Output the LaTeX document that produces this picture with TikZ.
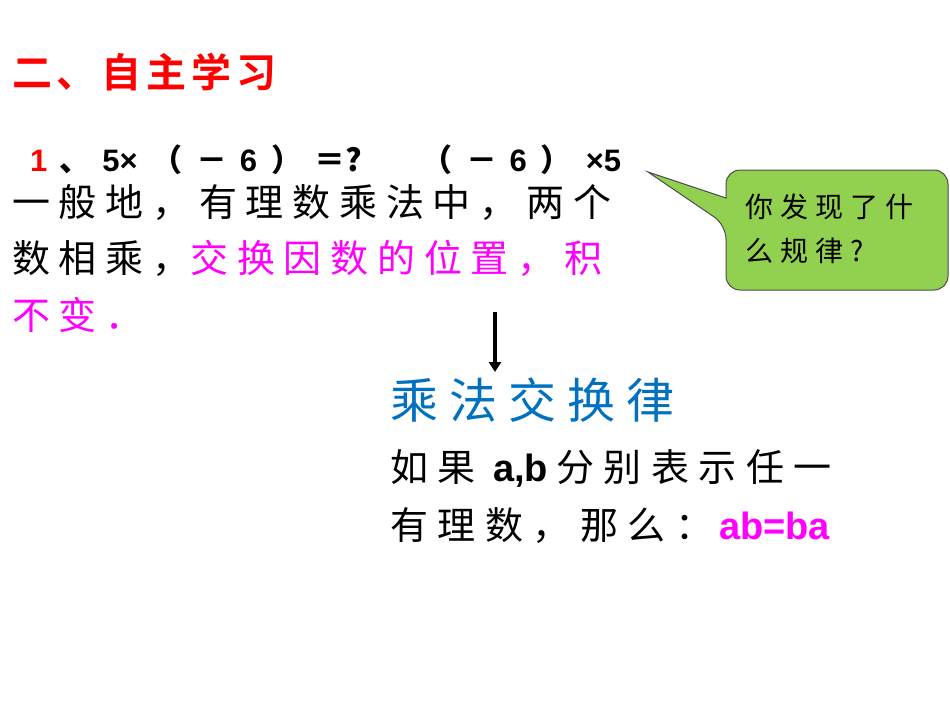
\documentclass[tikz,border=0pt]{standalone}
\usepackage{fontspec}
\setmainfont{Liberation Sans}
\newfontfamily\cjk[LetterSpace=23]{Noto Sans CJK SC}
\newfontfamily\cjkl[LetterSpace=25]{Noto Sans CJK SC}
\newfontfamily\cjkb[LetterSpace=12]{Noto Sans CJK SC Bold}
\newfontfamily\cjkn{Noto Sans CJK SC}
\usetikzlibrary{arrows.meta}
\definecolor{tred}{RGB}{255,0,0}
\definecolor{mag}{RGB}{255,0,255}
\definecolor{tblue}{RGB}{0,112,192}
\definecolor{cg}{RGB}{146,208,80}
\tikzset{txt/.style={anchor=west,inner sep=0pt}}
\begin{document}
\begin{tikzpicture}[x=1pt,y=-1pt]
\useasboundingbox (0,0) rectangle (950,713);
\node[txt,text=tred] (title) at (12,72) {\fontsize{40}{40}\selectfont\cjkb 二、自主学习};
\node[txt] (q) at (30,160) {\fontsize{31}{31}\selectfont\bfseries\textcolor{tred}{1}\hspace{12pt}{\cjkn 、}\hspace{12pt}5×\hspace{14pt}{\cjkn （}\hspace{14pt}{\cjkn －}\hspace{12pt}6\hspace{14pt}{\cjkn ）}\hspace{12pt}{\cjkn ＝?}\hspace{60pt}{\cjkn （}\hspace{14pt}{\cjkn －}\hspace{12pt}6\hspace{14pt}{\cjkn ）}\hspace{14pt}×5};
\node[txt] (l1) at (12,203) {\fontsize{38}{38}\selectfont\cjk 一般地，有理数乘法中，两个};
\node[txt] (l2) at (12,258) {\fontsize{38}{38}\selectfont\cjk 数相乘，\textcolor{mag}{交换因数的位置，积}};
\node[txt,text=mag] (l3) at (12,315) {\fontsize{38}{38}\selectfont\cjk 不变．};
\coordinate (a1) at (495,312);
\coordinate (a2) at (495,372);
\draw[line width=4pt,-{Triangle[length=10pt,width=12pt]}] (a1) -- (a2);
\node[txt,text=tblue] (law) at (390,400) {\fontsize{48}{48}\selectfont\cjk 乘法交换律};
\node[txt] (d1) at (390,468) {\fontsize{38}{38}\selectfont{\cjkl 如果}\hspace{8pt}\textbf{a,b}\hspace{8pt}{\cjkl 分别表示任一}};
\node[txt] (d2) at (390,526) {\fontsize{38}{38}\selectfont{\cjkl 有理数，那么：}\hspace{6pt}\textcolor{mag}{\bfseries ab=ba}};
\coordinate (tip) at (648,172);
\draw[fill=cg,draw=black!70,line width=1pt,rounded corners=14pt]
  (726,170) -- (948,170) -- (948,290) -- (726,290) -- (726,225) [sharp corners]-- (tip) -- (726,198) [rounded corners=14pt] -- cycle;
\node[anchor=west,inner sep=0pt,align=left,font=\fontsize{28}{44}\selectfont\cjkl] (bubble) at (745,229) {你发现了什\\么规律?};
\end{tikzpicture}
\end{document}
